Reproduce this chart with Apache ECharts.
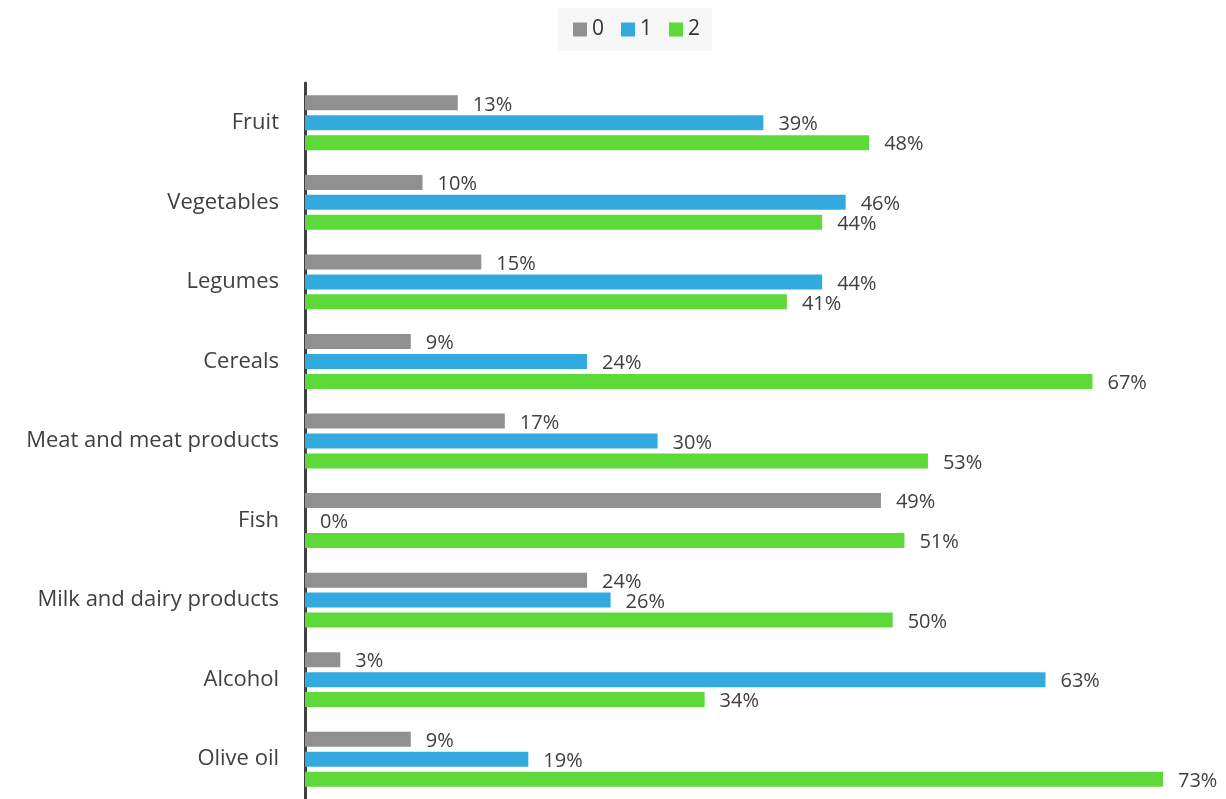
<!DOCTYPE html>
<html>
<head>
<meta charset="utf-8">
<script src="https://cdn.jsdelivr.net/npm/echarts@6/dist/echarts.min.js"></script>
<style>
  html, body { margin: 0; padding: 0; background: #fff; }
  #chart { width: 1226px; height: 799px; }
</style>
</head>
<body>
<div id="chart"></div>
<script>
const categories = ['Fruit', 'Vegetables', 'Legumes', 'Cereals', 'Meat and meat products', 'Fish', 'Milk and dairy products', 'Alcohol', 'Olive oil'];
const seriesNames = ['0', '1', '2'];
const values0 = [13, 10, 15, 9, 17, 49, 24, 3, 9];
const values1 = [39, 46, 44, 24, 30, 0, 26, 63, 19];
const values2 = [48, 44, 41, 67, 53, 51, 50, 34, 73];
const colors = ['#909090', '#33aadd', '#5dd93a'];

const font = '"Open Sans", sans-serif';
const chart = echarts.init(document.getElementById('chart'));

function barSeries(name, data, color) {
  return {
    name: name,
    type: 'bar',
    data: data,
    barWidth: 15,
    barGap: '33%',
    itemStyle: { color: color },
    label: {
      show: true,
      position: 'right',
      distance: 15,
      offset: [0, 2],
      formatter: '{c}%',
      color: '#404040',
      fontSize: 20,
      fontFamily: font
    }
  };
}

chart.setOption({
  animation: false,
  color: colors,
  legend: {
    data: seriesNames,
    top: 8,
    left: 557,
    itemWidth: 14,
    itemHeight: 14,
    itemGap: 17,
    padding: [11, 12, 11, 16],
    backgroundColor: '#f7f7f7',
    icon: 'rect',
    textStyle: { fontSize: 21, color: '#333', fontFamily: font }
  },
  grid: { left: 305, top: 83, width: 858, height: 720, containLabel: false },
  xAxis: {
    type: 'value',
    min: 0,
    max: 73,
    show: false
  },
  yAxis: {
    type: 'category',
    data: categories,
    inverse: true,
    axisLine: { show: true, lineStyle: { color: '#404040', width: 3 } },
    axisTick: { show: false },
    axisLabel: { fontSize: 22, color: '#404040', fontFamily: font, margin: 26 }
  },
  series: [
    barSeries(seriesNames[0], values0, colors[0]),
    barSeries(seriesNames[1], values1, colors[1]),
    barSeries(seriesNames[2], values2, colors[2])
  ]
});
</script>
</body>
</html>
